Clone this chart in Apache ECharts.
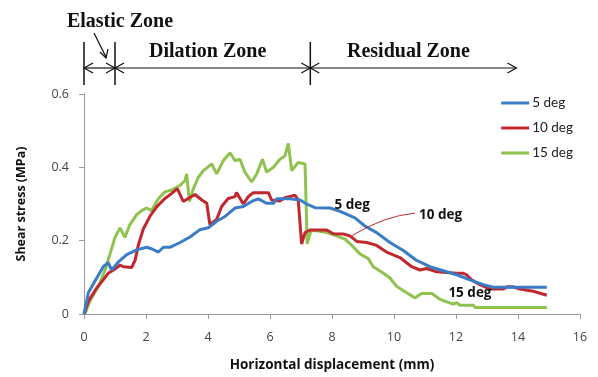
<!DOCTYPE html>
<html>
<head>
<meta charset="utf-8">
<script src="https://cdn.jsdelivr.net/npm/echarts@6/dist/echarts.min.js"></script>
<style>
	html, body { margin: 0; padding: 0; background: #fff; }
	#chart { width: 598px; height: 377px; }
</style>
</head>
<body>
<div id="chart"></div>
<script>
// [displacement mm, shear stress MPa]
var deg5 = [
	[0, 0], [0.14, 0.058], [0.41, 0.098], [0.62, 0.129], [0.78, 0.14], [0.89, 0.12],
	[1.11, 0.142], [1.38, 0.162], [1.7, 0.175], [2.02, 0.182], [2.18, 0.178], [2.4, 0.169],
	[2.56, 0.182], [2.77, 0.182], [3.1, 0.195], [3.42, 0.21], [3.74, 0.23], [4.01, 0.235],
	[4.28, 0.253], [4.55, 0.266], [4.87, 0.289], [5.14, 0.293], [5.41, 0.307], [5.62, 0.314],
	[5.89, 0.302], [6.11, 0.302], [6.22, 0.314], [6.65, 0.314], [6.97, 0.311], [7.18, 0.3],
	[7.45, 0.29], [7.94, 0.289], [8.26, 0.28], [8.74, 0.262], [9.06, 0.24], [9.44, 0.222],
	[9.87, 0.195], [10.3, 0.173], [10.73, 0.146], [11.16, 0.129], [11.59, 0.118], [12.02, 0.107],
	[12.45, 0.093], [12.88, 0.08], [13.2, 0.073], [14.93, 0.073]
];
var deg10 = [
	[0, 0], [0.14, 0.035], [0.41, 0.071], [0.62, 0.093], [0.78, 0.111], [0.95, 0.12],
	[1.16, 0.133], [1.27, 0.129], [1.54, 0.127], [1.65, 0.147], [1.75, 0.187], [1.91, 0.231],
	[2.13, 0.267], [2.35, 0.293], [2.61, 0.315], [2.83, 0.329], [3.01, 0.342], [3.2, 0.307],
	[3.36, 0.315], [3.58, 0.326], [3.8, 0.311], [3.96, 0.302], [4.06, 0.244], [4.28, 0.258],
	[4.44, 0.293], [4.65, 0.315], [4.87, 0.32], [4.92, 0.331], [5.14, 0.3], [5.3, 0.32],
	[5.46, 0.331], [5.95, 0.331], [6.05, 0.311], [6.32, 0.308], [6.48, 0.317], [6.81, 0.324],
	[6.91, 0.311], [7.02, 0.191], [7.13, 0.222], [7.29, 0.229], [7.83, 0.229], [8.04, 0.219],
	[8.37, 0.218], [8.58, 0.213], [8.8, 0.198], [9.12, 0.195], [9.44, 0.187], [9.76, 0.169],
	[10.19, 0.154], [10.57, 0.129], [10.84, 0.12], [11.05, 0.124], [11.38, 0.115], [12.02, 0.111],
	[12.24, 0.111], [12.34, 0.107], [12.5, 0.093], [12.77, 0.08], [13.1, 0.068], [13.53, 0.068],
	[13.64, 0.074], [13.85, 0.074], [14.06, 0.068], [14.49, 0.062], [14.93, 0.051]
];
var deg15 = [
	[0.03, 0], [0.19, 0.035], [0.46, 0.075], [0.68, 0.12], [0.84, 0.164], [1.0, 0.209],
	[1.16, 0.235], [1.32, 0.209], [1.48, 0.244], [1.7, 0.271], [1.86, 0.282], [2.02, 0.289],
	[2.18, 0.282], [2.4, 0.315], [2.61, 0.333], [2.83, 0.338], [3.1, 0.351], [3.26, 0.364],
	[3.31, 0.382], [3.4, 0.307], [3.53, 0.342], [3.69, 0.373], [3.85, 0.391], [4.12, 0.409],
	[4.28, 0.382], [4.49, 0.418], [4.71, 0.44], [4.87, 0.418], [5.03, 0.422], [5.19, 0.387],
	[5.41, 0.36], [5.57, 0.382], [5.76, 0.422], [5.89, 0.387], [6.11, 0.4], [6.32, 0.422],
	[6.48, 0.431], [6.59, 0.465], [6.7, 0.391], [6.91, 0.413], [7.13, 0.409], [7.2, 0.191],
	[7.32, 0.227], [7.51, 0.227], [7.83, 0.222], [8.15, 0.213], [8.42, 0.204], [8.64, 0.187],
	[8.9, 0.164], [9.17, 0.151], [9.33, 0.129], [9.66, 0.111], [9.87, 0.098], [10.09, 0.075],
	[10.41, 0.058], [10.68, 0.044], [10.89, 0.056], [11.22, 0.056], [11.48, 0.04], [11.91, 0.027],
	[12.02, 0.031], [12.13, 0.024], [12.56, 0.024], [12.61, 0.018], [14.93, 0.018]
];
var seriesNames = ['5 deg', '10 deg', '15 deg'];
var seriesColors = ['#3a7cc6', '#c0282d', '#8fc24f'];
var xTicks = [0, 2, 4, 6, 8, 10, 12, 14, 16];
var yTicks = [0, 0.2, 0.4, 0.6];

// zone boundaries (mm) and end of the residual arrow
var zoneEdges = [0, 1, 7.3];
var residualEnd = 13.95;
// curve labels [text, x, y]
var curveLabels = [['5 deg', 8.65, 0.297], ['10 deg', 11.5, 0.27], ['15 deg', 12.45, 0.057]];
// leader from "10 deg" label to its curve
var leader10 = [[10.68, 0.275], [9.7, 0.268], [8.65, 0.214]];

var chart = echarts.init(document.getElementById('chart'));

var series = [deg5, deg10, deg15].map(function(d, i) {
	return {
		name: seriesNames[i],
		type: 'line',
		data: d,
		showSymbol: false,
		symbol: 'none',
		lineStyle: { width: 3, color: seriesColors[i] },
		itemStyle: { color: seriesColors[i] },
		animation: false,
		z: 3 - i
	};
});

chart.setOption({
	animation: false,
	grid: { left: 84, right: 18, top: 94, bottom: 59 },
	legend: {
		orient: 'vertical',
		right: 20,
		top: 91,
		itemGap: 11,
		itemWidth: 28,
		itemHeight: 3,
		icon: 'rect',
		data: seriesNames,
		textStyle: { fontFamily: 'Lato', fontSize: 13.5, color: '#222', padding: [0, 0, 0, -2] }
	},
	xAxis: {
		type: 'value',
		min: 0,
		max: 16,
		interval: 2,
		name: 'Horizontal displacement (mm)',
		nameLocation: 'middle',
		nameGap: 44,
		nameTextStyle: { fontFamily: 'Open Sans', fontWeight: 'bold', fontSize: 13.5, color: '#111' },
		axisLine: { lineStyle: { color: '#9a9a9a', width: 1 } },
		axisTick: { show: true, length: 5, lineStyle: { color: '#9a9a9a' } },
		axisLabel: {
			fontFamily: 'Open Sans', fontSize: 12.5, color: '#444', margin: 17,
			formatter: function(v) { return xTicks.indexOf(v) >= 0 ? String(v) : ''; }
		},
		splitLine: { show: false }
	},
	yAxis: {
		type: 'value',
		min: 0,
		max: 0.6,
		interval: 0.2,
		name: 'Shear stress (MPa)',
		nameLocation: 'middle',
		nameGap: 56,
		nameRotate: 90,
		nameTextStyle: { fontFamily: 'Open Sans', fontWeight: 'bold', fontSize: 12.5, color: '#111' },
		axisLine: { show: true, lineStyle: { color: '#9a9a9a', width: 1 } },
		axisTick: { show: true, length: 5, lineStyle: { color: '#9a9a9a' } },
		axisLabel: {
			fontFamily: 'Open Sans', fontSize: 12.5, color: '#444', margin: 15,
			formatter: function(v) {
				for (var i = 0; i < yTicks.length; i++) {
					if (Math.abs(yTicks[i] - v) < 1e-6) return String(yTicks[i]);
				}
				return '';
			}
		},
		splitLine: { show: false }
	},
	series: series
});

// annotations placed through the axes
function px(x, y) {
	return chart.convertToPixel({ gridIndex: 0 }, [x, y]);
}
var elements = [];
var lineTop = 42, lineBottom = 85, arrowY = 68;
var zoneX = zoneEdges.map(function(v) { return px(v, 0)[0]; });
var endX = px(residualEnd, 0)[0];
var black = { stroke: '#111', lineWidth: 1.2, fill: null };

zoneX.forEach(function(x) {
	elements.push({ type: 'line', shape: { x1: x, y1: lineTop, x2: x, y2: lineBottom }, style: { stroke: '#111', lineWidth: 1.5 } });
});
function arrowHead(x, dir) {
	return { type: 'polyline', shape: { points: [[x - dir * 9, arrowY - 5], [x, arrowY], [x - dir * 9, arrowY + 5]] }, style: black };
}
// elastic, dilation, residual spans
var spans = [[zoneX[0], zoneX[1]], [zoneX[1], zoneX[2]], [zoneX[2], endX]];
spans.forEach(function(s) {
	elements.push({ type: 'line', shape: { x1: s[0], y1: arrowY, x2: s[1], y2: arrowY }, style: black });
	elements.push(arrowHead(s[0], -1));
	elements.push(arrowHead(s[1], 1));
});
var serif = 'bold 20px "Liberation Serif", serif';
elements.push({ type: 'text', x: 120, y: 22, style: { text: 'Elastic Zone', font: serif, fill: '#111', align: 'center', verticalAlign: 'middle' } });
elements.push({ type: 'text', x: (zoneX[1] + zoneX[2]) / 2 - 5, y: 52, style: { text: 'Dilation Zone', font: serif, fill: '#111', align: 'center', verticalAlign: 'middle' } });
elements.push({ type: 'text', x: (zoneX[2] + endX) / 2 - 5, y: 52, style: { text: 'Residual Zone', font: serif, fill: '#111', align: 'center', verticalAlign: 'middle' } });
// small arrow pointing at the elastic span
elements.push({ type: 'line', shape: { x1: 94, y1: 33, x2: 106, y2: 57 }, style: black });
elements.push({ type: 'polyline', shape: { points: [[100, 52], [106, 58], [108, 49]] }, style: black });

curveLabels.forEach(function(l) {
	var p = px(l[1], l[2]);
	elements.push({ type: 'text', x: p[0], y: p[1], z: 10, style: { text: l[0], font: 'bold 13.5px "Open Sans", sans-serif', fill: '#111', align: 'center', verticalAlign: 'middle' } });
});
var a = px(leader10[0][0], leader10[0][1]);
var b = px(leader10[1][0], leader10[1][1]);
var c = px(leader10[2][0], leader10[2][1]);
elements.push({ type: 'bezierCurve', z: 10, shape: { x1: a[0], y1: a[1], cpx1: b[0], cpy1: b[1], x2: c[0], y2: c[1] }, style: { stroke: '#c0282d', lineWidth: 1, fill: null } });

chart.setOption({ graphic: { elements: elements } });
</script>
</body>
</html>
